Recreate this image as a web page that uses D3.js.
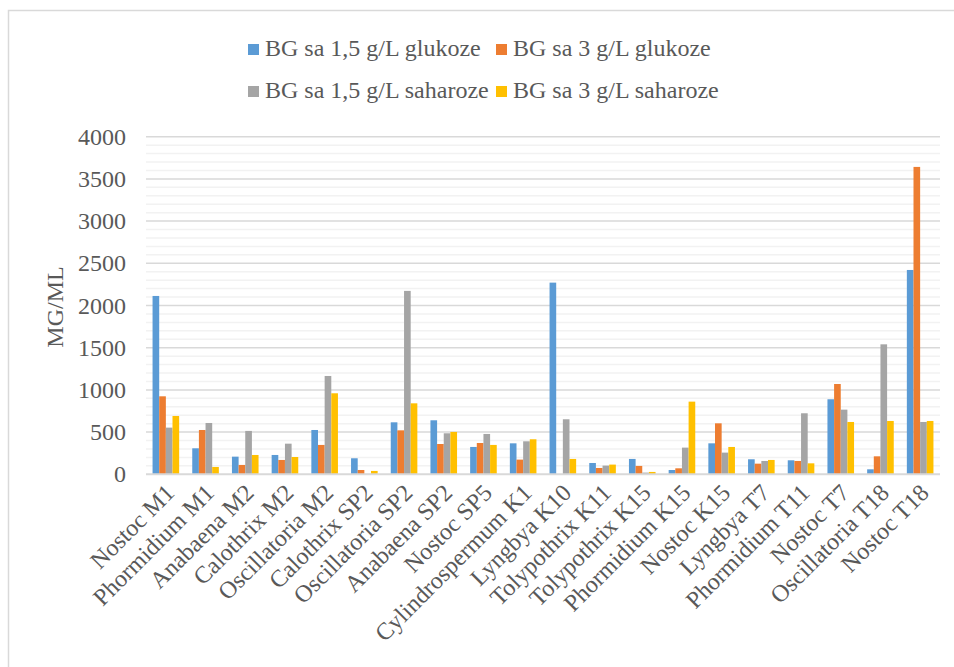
<!DOCTYPE html>
<html>
<head>
<meta charset="utf-8">
<script src="https://cdn.jsdelivr.net/npm/d3@7"></script>
<style>
  html, body { margin: 0; padding: 0; background: #fff; }
  svg { display: block; }
  text { font-family: "Liberation Serif", "Times New Roman", serif; fill: #595959; }
</style>
</head>
<body>
<svg id="chart" width="954" height="667"></svg>
<script>
const categories = ["Nostoc M1","Phormidium M1","Anabaena M2","Calothrix M2","Oscillatoria M2","Calothrix SP2","Oscillatoria SP2","Anabaena SP2","Nostoc SP5","Cylindrospermum K1","Lyngbya K10","Tolypothrix K11","Tolypothrix K15","Phormidium K15","Nostoc K15","Lyngbya T7","Phormidium T11","Nostoc T7","Oscillatoria T18","Nostoc T18"];
const seriesNames = ["BG sa 1,5 g/L glukoze","BG sa 3 g/L glukoze","BG sa 1,5 g/L saharoze","BG sa 3 g/L saharoze"];
const glukoze15 = [2113,308,209,229,525,190,616,640,324,367,2271,134,182,51,367,178,166,889,59,2421];
const glukoze3 = [924,525,111,170,348,51,521,359,371,174,0,75,99,71,604,126,158,1070,213,3642];
const saharoze15 = [553,608,514,363,1165,5,2173,486,478,391,652,103,20,316,257,158,723,766,1540,620];
const saharoze3 = [691,87,229,205,960,40,841,502,348,415,182,115,28,861,324,170,130,620,632,632];
const yTicks = [0,500,1000,1500,2000,2500,3000,3500,4000];
const colors = ["#5B9BD5","#ED7D31","#A5A5A5","#FFC000"];
const yTitle = "MG/ML";

const allSeries = [glukoze15, glukoze3, saharoze15, saharoze3];
const svg = d3.select("#chart");
const serif = '"Liberation Serif", "Times New Roman", serif';

// frame
svg.append("rect").attr("x",8.5).attr("y",10.5).attr("width",1000).attr("height",800)
  .attr("fill","none").attr("stroke","#D9D9D9").attr("stroke-width",1.5);

const pLeft = 146, pRight = 940, pTop = 136.7, pBottom = 474.3;
const x0 = d3.scaleBand().domain(categories).range([pLeft,pRight]).paddingInner(0.33).paddingOuter(0.165);
const x1 = d3.scaleBand().domain(d3.range(4)).range([0,x0.bandwidth()]);
const y = d3.scaleLinear().domain([0,4000]).range([pBottom,pTop]);

// minor gridlines
const minor = d3.range(100,4000,100).filter(v => v % 500 !== 0);
svg.append("g").selectAll("line").data(minor).join("line")
  .attr("x1",pLeft).attr("x2",pRight).attr("y1",d=>y(d)).attr("y2",d=>y(d))
  .attr("stroke","#F2F2F2").attr("stroke-width",1.5);
// major gridlines
svg.append("g").selectAll("line").data(yTicks.filter(d=>d>0)).join("line")
  .attr("x1",pLeft).attr("x2",pRight).attr("y1",d=>y(d)).attr("y2",d=>y(d))
  .attr("stroke","#D9D9D9").attr("stroke-width",1.5);

// bars
const groups = svg.append("g").selectAll("g").data(categories).join("g")
  .attr("transform", d => `translate(${x0(d)},0)`);
groups.selectAll("rect").data((d,i) => allSeries.map((s,k)=>({k, v:s[i]}))).join("rect")
  .attr("x", d => x1(d.k)).attr("width", x1.bandwidth())
  .attr("y", d => y(d.v)).attr("height", d => y(0)-y(d.v))
  .attr("fill", d => colors[d.k]);

// x axis baseline
svg.append("line").attr("x1",pLeft).attr("x2",pRight).attr("y1",y(0)).attr("y2",y(0))
  .attr("stroke","#D9D9D9").attr("stroke-width",2);

// y axis labels
const yAxis = d3.axisLeft(y).tickValues(yTicks).tickSize(0).tickPadding(0).tickFormat(d3.format("d"));
const gy = svg.append("g").attr("transform","translate(126,0)").call(yAxis)
  .attr("font-family", serif);
gy.select(".domain").remove();
gy.selectAll("text").attr("font-size",24).attr("fill","#595959");

// x axis labels
const xAxis = d3.axisBottom(x0).tickSize(0).tickPadding(0);
const gx = svg.append("g").attr("transform",`translate(0,${y(0)})`).call(xAxis)
  .attr("font-family", serif);
gx.select(".domain").remove();
gx.selectAll("text").attr("font-size",24).attr("fill","#595959")
  .attr("text-anchor","end").attr("dy",null).attr("y",null)
  .attr("transform","translate(10,20) rotate(-45)");

// y title
svg.append("text").attr("transform","translate(63,307) rotate(-90)")
  .attr("text-anchor","middle").attr("font-size",24).text(yTitle);

// legend
const legPos = [[248,44],[496,44],[248,86],[496,86]];
const leg = svg.append("g").selectAll("g").data(seriesNames).join("g")
  .attr("transform",(d,i)=>`translate(${legPos[i][0]},${legPos[i][1]})`);
leg.append("rect").attr("width",11).attr("height",11).attr("fill",(d,i)=>colors[i]);
leg.append("text").attr("x",17).attr("y",12).attr("font-size",24).text(d=>d);
</script>
</body>
</html>
